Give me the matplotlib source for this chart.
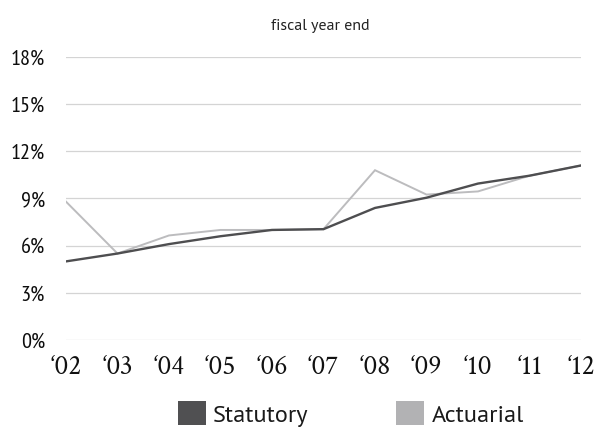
import matplotlib
matplotlib.use("Agg")
import matplotlib.pyplot as plt
from matplotlib.patches import Patch
from matplotlib.ticker import FixedLocator

# Fiscal years (two-digit labels) and rates in percent
years = ["02", "03", "04", "05", "06", "07", "08", "09", "10", "11", "12"]
statutory = [5.0, 5.5, 6.1, 6.6, 7.0, 7.05, 8.4, 9.05, 9.95, 10.45, 11.1]
actuarial = [8.8, 5.5, 6.65, 7.0, 7.0, 7.05, 10.8, 9.25, 9.45, 10.45, 11.1]
y_ticks = [0, 3, 6, 9, 12, 15, 18]

DARK = "#4e4e50"
LIGHT = "#bcbcbe"
GRID = "#d4d4d4"
SANS = ["PT Sans", "DejaVu Sans"]
NARROW = ["PT Sans Narrow", "DejaVu Sans"]
SERIF = ["Crimson Text", "DejaVu Serif"]

fig = plt.figure(figsize=(6.02, 4.28), dpi=100)
ax = fig.add_axes([66 / 602, 1 - 340 / 428, (581 - 66) / 602, (340 - 57) / 428])

x = list(range(len(years)))
ax.plot(x, actuarial, color=LIGHT, lw=1.4, zorder=3, solid_joinstyle="miter")
ax.plot(x, statutory, color=DARK, lw=1.7, zorder=4, solid_joinstyle="miter")

ax.set_xlim(0, len(years) - 1)
ax.set_ylim(0, 18)
ax.yaxis.set_major_locator(FixedLocator(y_ticks))
ax.set_yticklabels([f"{v}%" for v in y_ticks], fontfamily=NARROW, fontsize=16, color="#0d0d0d")
ax.set_xticks(x)
ax.set_xticklabels(["\u2018" + y for y in years], fontfamily=SERIF, fontsize=20, color="#111111")
ax.tick_params(axis="y", length=0, pad=15)
ax.tick_params(axis="x", length=0, pad=10.5)
ax.grid(axis="y", color=GRID, lw=0.9)
ax.grid(axis="x", visible=False)
for s in ax.spines.values():
    s.set_visible(False)
ax.set_axisbelow(True)

fig.text(320 / 602, 1 - 26 / 428, "fiscal year end", ha="center", va="center",
         fontfamily=SANS, fontsize=11.5, color="#222222")

handles = [Patch(facecolor="#505052", edgecolor="none", label="Statutory"),
           Patch(facecolor="#b2b2b4", edgecolor="none", label="Actuarial")]
leg = fig.legend(handles=handles, loc="center", bbox_to_anchor=(351 / 602, 1 - 414 / 428),
                 ncol=2, frameon=False, prop={"family": SANS, "size": 17.5},
                 handlelength=1.15, handleheight=1.15, handletextpad=0.32,
                 columnspacing=3.6, borderpad=0, borderaxespad=0)
for t in leg.get_texts():
    t.set_color("#1a1a1a")

fig.savefig("out.png", dpi=100)
